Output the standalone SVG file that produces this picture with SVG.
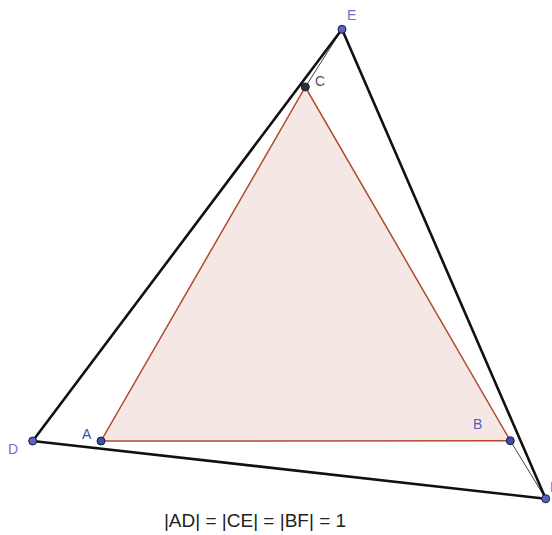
<svg xmlns="http://www.w3.org/2000/svg" width="552" height="535" viewBox="0 0 552 535">
<style>
.lbl{font-family:"Liberation Sans",Arial,sans-serif;font-size:14px}
.thick{stroke:#111;stroke-width:2.6;fill:none;stroke-linecap:round}
.thin{stroke:#444;stroke-width:1;fill:none}
.pt{stroke:#1a1a3a;stroke-width:1}
</style>
<rect width="552" height="535" fill="#ffffff"/>
<g id="triangle-ABC">
<polygon points="101,441 510.3,440.7 305.3,87" fill="#f5e7e3" stroke="#b04a2e" stroke-width="1.5"/>
</g>
<g id="connectors">
<line class="thin" x1="305.3" y1="87" x2="342" y2="29.3"/>
<line class="thin" x1="510.3" y1="440.7" x2="545.7" y2="498.7"/>
<line class="thick" x1="32.7" y1="441" x2="342" y2="29.3"/>
<line class="thick" x1="342" y1="29.3" x2="545.7" y2="498.7"/>
<line class="thick" x1="545.7" y1="498.7" x2="32.7" y2="441"/>
</g>
<g id="A"><circle class="pt" cx="101" cy="441" r="4" fill="#3a4fa6"/><text class="lbl" x="82" y="439" fill="#3a4fa6">A</text></g>
<g id="B"><circle class="pt" cx="510.3" cy="440.7" r="4" fill="#3a4fa6"/><text class="lbl" x="473" y="429" fill="#4a60c0">B</text></g>
<g id="C"><circle class="pt" cx="305.3" cy="87" r="4" fill="#333333"/><text class="lbl" x="315" y="86" fill="#555555">C</text></g>
<g id="D"><circle class="pt" cx="32.7" cy="441" r="4" fill="#5c62c0"/><text class="lbl" x="8" y="453.5" fill="#7070cc">D</text></g>
<g id="E"><circle class="pt" cx="342" cy="29.3" r="4" fill="#5c62c0"/><text class="lbl" x="347" y="20" fill="#7070cc">E</text></g>
<g id="F"><circle class="pt" cx="545.7" cy="498.7" r="4" fill="#5c62c0"/><text class="lbl" x="550" y="492" fill="#7070cc">F</text></g>
<text x="255" y="527" text-anchor="middle" font-family="Liberation Sans, Arial, sans-serif" font-size="19" fill="#222">|AD| = |CE| = |BF| = 1</text>
</svg>
